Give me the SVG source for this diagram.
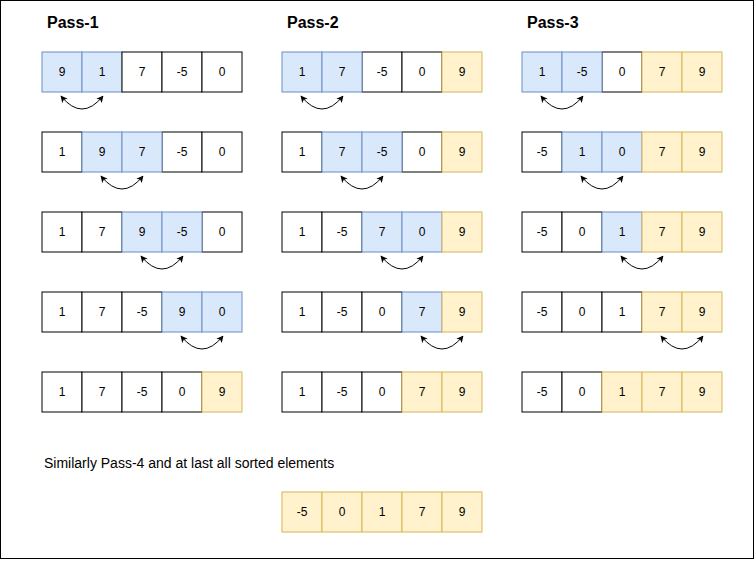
<svg xmlns="http://www.w3.org/2000/svg" width="755" height="561" viewBox="0 0 755 561">
<style>
rect.w{fill:#ffffff;stroke:#000000;stroke-width:1}
rect.b{fill:#dae8fc;stroke:#6c8ebf;stroke-width:1}
rect.y{fill:#fff2cc;stroke:#d6b656;stroke-width:1}
text{font-family:"Liberation Sans",Arial,sans-serif;font-size:12px;fill:#000000}
g.c text{text-anchor:middle}
.title{font-size:16px;font-weight:bold}
.note{font-size:14px}
.conn path{fill:none;stroke:#000000;stroke-width:1;marker-start:url(#ah);marker-end:url(#ah)}
</style>
<defs>
<marker id="ah" viewBox="0 0 10 10" refX="9" refY="5" markerWidth="7" markerHeight="7" markerUnits="userSpaceOnUse" orient="auto-start-reverse">
<path d="M0,0 L10,5 L0,10 L2.5,5 Z" fill="#000000" stroke="none"/>
</marker>
</defs>
<rect x="0.5" y="0.5" width="753" height="558" fill="#ffffff" stroke="#000000" stroke-width="1"/>
<text class="title" x="47" y="28">Pass-1</text>
<text class="title" x="287" y="28">Pass-2</text>
<text class="title" x="527" y="28">Pass-3</text>
<text class="note" x="44" y="468">Similarly Pass-4 and at last all sorted elements</text>

<!-- Pass-1 -->
<g id="p1r1c1" class="c"><rect class="b" x="42" y="52" width="40" height="40"/><text x="62" y="76">9</text></g>
<g id="p1r1c2" class="c"><rect class="b" x="82" y="52" width="40" height="40"/><text x="102" y="76">1</text></g>
<g id="p1r1c3" class="c"><rect class="w" x="122" y="52" width="40" height="40"/><text x="142" y="76">7</text></g>
<g id="p1r1c4" class="c"><rect class="w" x="162" y="52" width="40" height="40"/><text x="182" y="76">-5</text></g>
<g id="p1r1c5" class="c"><rect class="w" x="202" y="52" width="40" height="40"/><text x="222" y="76">0</text></g>

<g id="p1r2c1" class="c"><rect class="w" x="42" y="132" width="40" height="40"/><text x="62" y="156">1</text></g>
<g id="p1r2c4" class="c"><rect class="w" x="162" y="132" width="40" height="40"/><text x="182" y="156">-5</text></g>
<g id="p1r2c5" class="c"><rect class="w" x="202" y="132" width="40" height="40"/><text x="222" y="156">0</text></g>
<g id="p1r2c2" class="c"><rect class="b" x="82" y="132" width="40" height="40"/><text x="102" y="156">9</text></g>
<g id="p1r2c3" class="c"><rect class="b" x="122" y="132" width="40" height="40"/><text x="142" y="156">7</text></g>

<g id="p1r3c1" class="c"><rect class="w" x="42" y="212" width="40" height="40"/><text x="62" y="236">1</text></g>
<g id="p1r3c2" class="c"><rect class="w" x="82" y="212" width="40" height="40"/><text x="102" y="236">7</text></g>
<g id="p1r3c5" class="c"><rect class="w" x="202" y="212" width="40" height="40"/><text x="222" y="236">0</text></g>
<g id="p1r3c3" class="c"><rect class="b" x="122" y="212" width="40" height="40"/><text x="142" y="236">9</text></g>
<g id="p1r3c4" class="c"><rect class="b" x="162" y="212" width="40" height="40"/><text x="182" y="236">-5</text></g>

<g id="p1r4c1" class="c"><rect class="w" x="42" y="292" width="40" height="40"/><text x="62" y="316">1</text></g>
<g id="p1r4c2" class="c"><rect class="w" x="82" y="292" width="40" height="40"/><text x="102" y="316">7</text></g>
<g id="p1r4c3" class="c"><rect class="w" x="122" y="292" width="40" height="40"/><text x="142" y="316">-5</text></g>
<g id="p1r4c4" class="c"><rect class="b" x="162" y="292" width="40" height="40"/><text x="182" y="316">9</text></g>
<g id="p1r4c5" class="c"><rect class="b" x="202" y="292" width="40" height="40"/><text x="222" y="316">0</text></g>

<g id="p1r5c1" class="c"><rect class="w" x="42" y="372" width="40" height="40"/><text x="62" y="396">1</text></g>
<g id="p1r5c2" class="c"><rect class="w" x="82" y="372" width="40" height="40"/><text x="102" y="396">7</text></g>
<g id="p1r5c3" class="c"><rect class="w" x="122" y="372" width="40" height="40"/><text x="142" y="396">-5</text></g>
<g id="p1r5c4" class="c"><rect class="w" x="162" y="372" width="40" height="40"/><text x="182" y="396">0</text></g>
<g id="p1r5c5" class="c"><rect class="y" x="202" y="372" width="40" height="40"/><text x="222" y="396">9</text></g>

<!-- Pass-2 -->
<g id="p2r1c3" class="c"><rect class="w" x="362" y="52" width="40" height="40"/><text x="382" y="76">-5</text></g>
<g id="p2r1c4" class="c"><rect class="w" x="402" y="52" width="40" height="40"/><text x="422" y="76">0</text></g>
<g id="p2r1c1" class="c"><rect class="b" x="282" y="52" width="40" height="40"/><text x="302" y="76">1</text></g>
<g id="p2r1c2" class="c"><rect class="b" x="322" y="52" width="40" height="40"/><text x="342" y="76">7</text></g>
<g id="p2r1c5" class="c"><rect class="y" x="442" y="52" width="40" height="40"/><text x="462" y="76">9</text></g>

<g id="p2r2c1" class="c"><rect class="w" x="282" y="132" width="40" height="40"/><text x="302" y="156">1</text></g>
<g id="p2r2c4" class="c"><rect class="w" x="402" y="132" width="40" height="40"/><text x="422" y="156">0</text></g>
<g id="p2r2c2" class="c"><rect class="b" x="322" y="132" width="40" height="40"/><text x="342" y="156">7</text></g>
<g id="p2r2c3" class="c"><rect class="b" x="362" y="132" width="40" height="40"/><text x="382" y="156">-5</text></g>
<g id="p2r2c5" class="c"><rect class="y" x="442" y="132" width="40" height="40"/><text x="462" y="156">9</text></g>

<g id="p2r3c1" class="c"><rect class="w" x="282" y="212" width="40" height="40"/><text x="302" y="236">1</text></g>
<g id="p2r3c2" class="c"><rect class="w" x="322" y="212" width="40" height="40"/><text x="342" y="236">-5</text></g>
<g id="p2r3c3" class="c"><rect class="b" x="362" y="212" width="40" height="40"/><text x="382" y="236">7</text></g>
<g id="p2r3c4" class="c"><rect class="b" x="402" y="212" width="40" height="40"/><text x="422" y="236">0</text></g>
<g id="p2r3c5" class="c"><rect class="y" x="442" y="212" width="40" height="40"/><text x="462" y="236">9</text></g>

<g id="p2r4c1" class="c"><rect class="w" x="282" y="292" width="40" height="40"/><text x="302" y="316">1</text></g>
<g id="p2r4c2" class="c"><rect class="w" x="322" y="292" width="40" height="40"/><text x="342" y="316">-5</text></g>
<g id="p2r4c3" class="c"><rect class="w" x="362" y="292" width="40" height="40"/><text x="382" y="316">0</text></g>
<g id="p2r4c4" class="c"><rect class="b" x="402" y="292" width="40" height="40"/><text x="422" y="316">7</text></g>
<g id="p2r4c5" class="c"><rect class="y" x="442" y="292" width="40" height="40"/><text x="462" y="316">9</text></g>

<g id="p2r5c1" class="c"><rect class="w" x="282" y="372" width="40" height="40"/><text x="302" y="396">1</text></g>
<g id="p2r5c2" class="c"><rect class="w" x="322" y="372" width="40" height="40"/><text x="342" y="396">-5</text></g>
<g id="p2r5c3" class="c"><rect class="w" x="362" y="372" width="40" height="40"/><text x="382" y="396">0</text></g>
<g id="p2r5c4" class="c"><rect class="y" x="402" y="372" width="40" height="40"/><text x="422" y="396">7</text></g>
<g id="p2r5c5" class="c"><rect class="y" x="442" y="372" width="40" height="40"/><text x="462" y="396">9</text></g>

<!-- Pass-3 -->
<g id="p3r1c3" class="c"><rect class="w" x="602" y="52" width="40" height="40"/><text x="622" y="76">0</text></g>
<g id="p3r1c1" class="c"><rect class="b" x="522" y="52" width="40" height="40"/><text x="542" y="76">1</text></g>
<g id="p3r1c2" class="c"><rect class="b" x="562" y="52" width="40" height="40"/><text x="582" y="76">-5</text></g>
<g id="p3r1c4" class="c"><rect class="y" x="642" y="52" width="40" height="40"/><text x="662" y="76">7</text></g>
<g id="p3r1c5" class="c"><rect class="y" x="682" y="52" width="40" height="40"/><text x="702" y="76">9</text></g>

<g id="p3r2c1" class="c"><rect class="w" x="522" y="132" width="40" height="40"/><text x="542" y="156">-5</text></g>
<g id="p3r2c2" class="c"><rect class="b" x="562" y="132" width="40" height="40"/><text x="582" y="156">1</text></g>
<g id="p3r2c3" class="c"><rect class="b" x="602" y="132" width="40" height="40"/><text x="622" y="156">0</text></g>
<g id="p3r2c4" class="c"><rect class="y" x="642" y="132" width="40" height="40"/><text x="662" y="156">7</text></g>
<g id="p3r2c5" class="c"><rect class="y" x="682" y="132" width="40" height="40"/><text x="702" y="156">9</text></g>

<g id="p3r3c1" class="c"><rect class="w" x="522" y="212" width="40" height="40"/><text x="542" y="236">-5</text></g>
<g id="p3r3c2" class="c"><rect class="w" x="562" y="212" width="40" height="40"/><text x="582" y="236">0</text></g>
<g id="p3r3c3" class="c"><rect class="b" x="602" y="212" width="40" height="40"/><text x="622" y="236">1</text></g>
<g id="p3r3c4" class="c"><rect class="y" x="642" y="212" width="40" height="40"/><text x="662" y="236">7</text></g>
<g id="p3r3c5" class="c"><rect class="y" x="682" y="212" width="40" height="40"/><text x="702" y="236">9</text></g>

<g id="p3r4c1" class="c"><rect class="w" x="522" y="292" width="40" height="40"/><text x="542" y="316">-5</text></g>
<g id="p3r4c2" class="c"><rect class="w" x="562" y="292" width="40" height="40"/><text x="582" y="316">0</text></g>
<g id="p3r4c3" class="c"><rect class="w" x="602" y="292" width="40" height="40"/><text x="622" y="316">1</text></g>
<g id="p3r4c4" class="c"><rect class="y" x="642" y="292" width="40" height="40"/><text x="662" y="316">7</text></g>
<g id="p3r4c5" class="c"><rect class="y" x="682" y="292" width="40" height="40"/><text x="702" y="316">9</text></g>

<g id="p3r5c1" class="c"><rect class="w" x="522" y="372" width="40" height="40"/><text x="542" y="396">-5</text></g>
<g id="p3r5c2" class="c"><rect class="w" x="562" y="372" width="40" height="40"/><text x="582" y="396">0</text></g>
<g id="p3r5c3" class="c"><rect class="y" x="602" y="372" width="40" height="40"/><text x="622" y="396">1</text></g>
<g id="p3r5c4" class="c"><rect class="y" x="642" y="372" width="40" height="40"/><text x="662" y="396">7</text></g>
<g id="p3r5c5" class="c"><rect class="y" x="682" y="372" width="40" height="40"/><text x="702" y="396">9</text></g>

<!-- Final -->
<g id="fc1" class="c"><rect class="y" x="282" y="492" width="40" height="40"/><text x="302" y="516">-5</text></g>
<g id="fc2" class="c"><rect class="y" x="322" y="492" width="40" height="40"/><text x="342" y="516">0</text></g>
<g id="fc3" class="c"><rect class="y" x="362" y="492" width="40" height="40"/><text x="382" y="516">1</text></g>
<g id="fc4" class="c"><rect class="y" x="402" y="492" width="40" height="40"/><text x="422" y="516">7</text></g>
<g id="fc5" class="c"><rect class="y" x="442" y="492" width="40" height="40"/><text x="462" y="516">9</text></g>

<g id="connectors" class="conn">
<path d="M61,96 Q82,122 103,96"/>
<path d="M101,176 Q122,202 143,176"/>
<path d="M141,256 Q162,282 183,256"/>
<path d="M181,336 Q202,362 223,336"/>
<path d="M301,96 Q322,122 343,96"/>
<path d="M341,176 Q362,202 383,176"/>
<path d="M381,256 Q402,282 423,256"/>
<path d="M421,336 Q442,362 463,336"/>
<path d="M541,96 Q562,122 583,96"/>
<path d="M581,176 Q602,202 623,176"/>
<path d="M621,256 Q642,282 663,256"/>
<path d="M661,336 Q682,362 703,336"/>
</g>
</svg>
